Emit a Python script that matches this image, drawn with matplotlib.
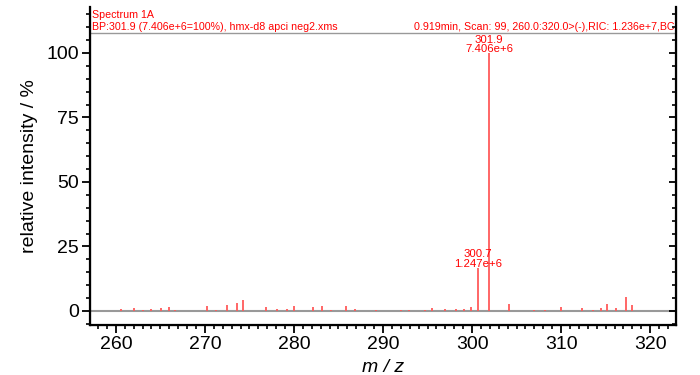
import matplotlib
matplotlib.use("Agg")
import matplotlib.pyplot as plt
from matplotlib import font_manager
from matplotlib.ticker import MultipleLocator

# ---- data ----
mz = [260.6, 262.0, 263.1, 264.0, 265.1, 266.0, 266.6, 270.2, 271.3, 272.5,
      273.6, 274.3, 276.9, 278.1, 279.2, 280.0, 282.1, 283.1, 284.2, 285.8,
      286.8, 289.2, 292.0, 292.9, 294.7, 295.5, 297.0, 298.2, 299.1, 299.9,
      300.7, 301.9, 304.1, 307.0, 308.2, 310.0, 311.1, 312.3, 313.6, 314.5,
      315.2, 316.2, 317.3, 318.0]
intensity = [0.9, 1.2, 0.5, 0.9, 1.3, 1.7, 0.5, 1.8, 0.3, 2.2,
             3.1, 4.1, 1.6, 0.7, 0.7, 2.1, 1.7, 2.1, 0.3, 1.8,
             0.8, 0.3, 0.4, 0.4, 0.5, 1.3, 0.6, 0.8, 0.8, 1.6,
             16.84, 100.0, 2.6, 0.3, 0.3, 1.7, 0.1, 1.0, 0.5, 1.0,
             2.6, 1.2, 5.4, 2.3]
label_mz = [300.7, 301.9]
label_val = [16.84, 100.0]
label_text = ["300.7\n1.247e+6", "301.9\n7.406e+6"]

title_left1 = "Spectrum 1A"
title_left2 = "BP:301.9 (7.406e+6=100%), hmx-d8 apci neg2.xms"
title_right2 = "0.919min, Scan: 99, 260.0:320.0>(-),RIC: 1.236e+7,BC"
xticks = [260, 270, 280, 290, 300, 310, 320]
yticks = [0, 25, 50, 75, 100]

# ---- fonts ----
main_font = "Liberation Sans"
try:
    font_manager.findfont(font_manager.FontProperties(family="Liberation Sans Narrow"),
                          fallback_to_default=False)
    narrow_font = "Liberation Sans Narrow"
    narrow_size = 9.0
except Exception:
    narrow_font = "Liberation Sans"
    narrow_size = 7.7

plt.rcParams['font.family'] = [main_font, 'DejaVu Sans']

red = "#ff0000"
peak_col = "#ff5a5a"

fig = plt.figure(figsize=(7.0, 3.75), dpi=100)
ax = fig.add_axes([90/700, 50/375, 586/700, 318/375])

ax.vlines(mz, 0, intensity, color=peak_col, lw=1.3, zorder=3)
ax.axhline(0, color="#999999", lw=1.5, zorder=2)
ax.axhline(107.75, color="#999999", lw=1.0, zorder=2)

for x, v, t in zip(label_mz, label_val, label_text):
    ax.text(x, v - 0.5, t, ha="center", va="bottom", color=red,
            family=narrow_font, fontsize=narrow_size + 0.5, linespacing=0.95, zorder=4)

ax.set_xlim(257.1, 322.9)
ax.set_ylim(-5.43, 117.8)

ax.spines['top'].set_visible(False)
for s in ['left', 'right', 'bottom']:
    ax.spines[s].set_linewidth(1.6)

ax.set_xticks(xticks)
ax.set_yticks(yticks)
ax.xaxis.set_minor_locator(MultipleLocator(1))
ax.yaxis.set_minor_locator(MultipleLocator(5))
ax.tick_params(axis='both', which='major', labelsize=14, direction='out',
               length=6, width=1.3, pad=2)
ax.tick_params(axis='both', which='minor', direction='out', length=3, width=1.2)
ax.tick_params(axis='y', which='both', right=False)

# inward ticks on right spine
ax2 = ax.twinx()
ax2.set_ylim(ax.get_ylim())
ax2.set_yticks(yticks)
ax2.yaxis.set_minor_locator(MultipleLocator(5))
ax2.tick_params(axis='y', which='major', direction='in', length=5, width=1.3, labelright=False)
ax2.tick_params(axis='y', which='minor', direction='in', length=3, width=1.2)
ax2.spines['top'].set_visible(False)

ax.set_ylabel("relative intensity / %", fontsize=14, labelpad=6)
ax.set_xlabel("m / z", fontsize=14, fontstyle="italic", labelpad=4)

ax.text(2/586, 1 - 8/318, title_left1, transform=ax.transAxes, ha="left", va="center",
        color=red, family=narrow_font, fontsize=narrow_size)
ax.text(2/586, 1 - 20/318, title_left2, transform=ax.transAxes, ha="left", va="center",
        color=red, family=narrow_font, fontsize=narrow_size)
ax.text(1 - 2/586, 1 - 20/318, title_right2, transform=ax.transAxes, ha="right", va="center",
        color=red, family=narrow_font, fontsize=narrow_size)

fig.savefig("out.png", dpi=100)
